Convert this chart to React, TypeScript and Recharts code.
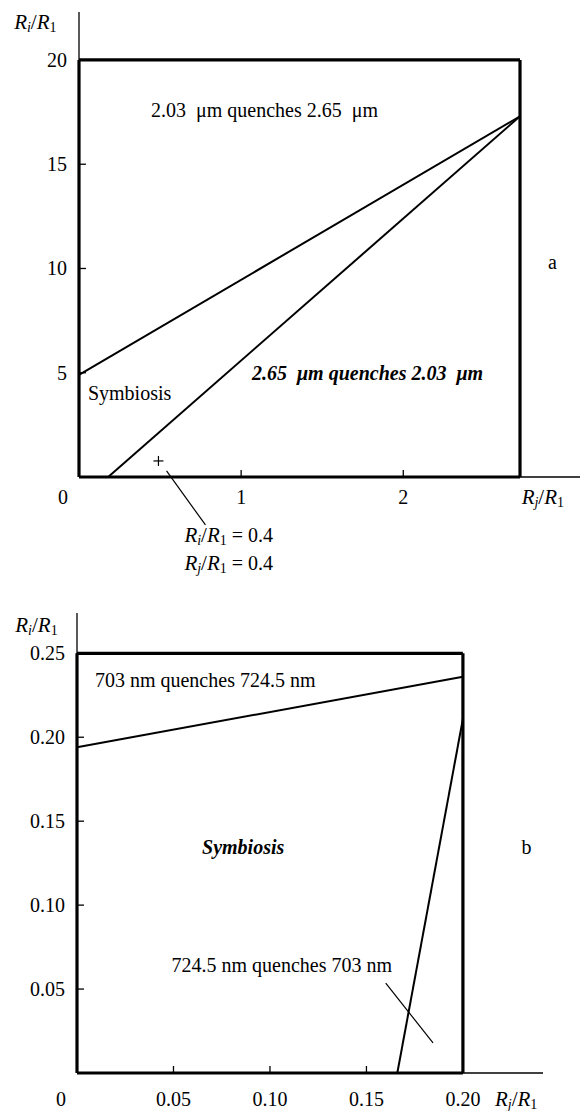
import React from 'react';
import {
  ComposedChart,
  Line,
  Scatter,
  XAxis,
  YAxis,
  ReferenceLine,
  ReferenceDot,
} from 'recharts';

const FONT = 'Liberation Serif, DejaVu Serif, serif';
const FS = 20;

// panel a
const A_X_TICKS = [0, 1, 2];
const A_Y_TICKS = [5, 10, 15, 20];
const A_X_END = 2.72;
const A_Y_END = 20;
const A_UPPER = [
  { x: 0, y: 4.9 },
  { x: 2.72, y: 17.3 },
];
const A_LOWER = [
  { x: 0.18, y: 0 },
  { x: 2.72, y: 17.3 },
];
const A_POINT = [{ x: 0.49, y: 0.77 }];
const A_LEADER = [
  { x: 0.54, y: 0.29 },
  { x: 0.78, y: -2.3 },
];

// panel b
const B_X_TICKS = [0, 0.05, 0.1, 0.15, 0.2];
const B_Y_TICKS = [0.05, 0.1, 0.15, 0.2, 0.25];
const B_X_END = 0.2;
const B_Y_END = 0.25;
const B_UPPER = [
  { x: 0, y: 0.194 },
  { x: 0.2, y: 0.236 },
];
const B_STEEP = [
  { x: 0.166, y: 0 },
  { x: 0.2, y: 0.211 },
];
const B_LEADER = [
  { x: 0.16, y: 0.0536 },
  { x: 0.1845, y: 0.0179 },
];

const ratio = (sub: string, tail = '') => (
  <>
    <tspan fontStyle="italic" fontSize={21}>R</tspan>
    <tspan fontStyle="italic" fontSize={14} dy={5}>{sub}</tspan>
    <tspan fontSize={21} dy={-5}>/</tspan>
    <tspan fontStyle="italic" fontSize={21}>R</tspan>
    <tspan fontSize={14} dy={5}>1</tspan>
    <tspan dy={-5}>{tail}</tspan>
  </>
);

type Note = {
  x: number;
  y: number;
  body: React.ReactNode;
  anchor?: 'start' | 'middle' | 'end';
  bold?: boolean;
};

const A_NOTES: Note[] = [
  { x: 0.444, y: 17.6, body: '2.03  μm quenches 2.65  μm' },
  { x: 0.055, y: 4.03, body: 'Symbiosis' },
  { x: 1.067, y: 4.99, body: '2.65  μm quenches 2.03  μm', bold: true },
  { x: 2.92, y: 10.3, body: 'a', anchor: 'middle' },
  { x: 0.65, y: -2.78, body: ratio('i', ' = 0.4') },
  { x: 0.65, y: -4.12, body: ratio('j', ' = 0.4') },
  { x: 2.73, y: -0.96, body: ratio('j') },
  { x: -0.4, y: 21.8, body: ratio('i') },
];

const B_NOTES: Note[] = [
  { x: 0.0093, y: 0.234, body: '703 nm quenches 724.5 nm' },
  { x: 0.0648, y: 0.1345, body: 'Symbiosis', bold: true },
  { x: 0.049, y: 0.0643, body: '724.5 nm quenches 703 nm' },
  { x: 0.233, y: 0.1345, body: 'b', anchor: 'middle' },
  { x: 0.2166, y: -0.0155, body: ratio('j') },
  { x: -0.032, y: 0.2667, body: ratio('i') },
];

const txt = { fontFamily: FONT, fontSize: FS };

const noteLabel = (n: Note) => (props: any) => {
  const vb = props.viewBox || {};
  return (
    <text
      x={vb.x}
      y={vb.y}
      textAnchor={n.anchor ?? 'start'}
      dominantBaseline="central"
      fill="#000"
      style={{
        ...txt,
        whiteSpace: 'pre',
        fontWeight: n.bold ? 'bold' : 'normal',
        fontStyle: n.bold ? 'italic' : 'normal',
      }}
    >
      {n.body}
    </text>
  );
};

const makeYTick = (fmt: (v: number) => string) => (props: any) => {
  const { x, y, payload } = props;
  return (
    <g>
      <line x1={x} y1={y} x2={x + 7} y2={y} stroke="#000" strokeWidth={1.3} />
      <text x={x - 12} y={y} textAnchor="end" dominantBaseline="central" fill="#000" style={txt}>
        {fmt(payload.value)}
      </text>
    </g>
  );
};

const makeXTick = (fmt: (v: number) => string, dy: number) => (props: any) => {
  const { x, y, payload } = props;
  const zero = payload.value === 0;
  return (
    <g>
      {!zero && <line x1={x} y1={y} x2={x} y2={y - 7} stroke="#000" strokeWidth={1.3} />}
      <text
        x={zero ? x - 16 : x}
        y={y + dy}
        textAnchor="middle"
        dominantBaseline="central"
        fill="#000"
        style={txt}
      >
        {fmt(payload.value)}
      </text>
    </g>
  );
};

const plus = (props: any) => {
  const { cx, cy } = props;
  return (
    <g>
      <line x1={cx - 5} y1={cy} x2={cx + 5} y2={cy} stroke="#000" strokeWidth={1.2} />
      <line x1={cx} y1={cy - 5} x2={cx} y2={cy + 5} stroke="#000" strokeWidth={1.2} />
    </g>
  );
};

const boxLines = (xEnd: number, yEnd: number) => [
  <ReferenceLine key="bl" segment={[{ x: 0, y: 0 }, { x: 0, y: yEnd }]} stroke="#000" strokeWidth={3.2} ifOverflow="visible" />,
  <ReferenceLine key="bb" segment={[{ x: 0, y: 0 }, { x: xEnd, y: 0 }]} stroke="#000" strokeWidth={3.2} ifOverflow="visible" />,
  <ReferenceLine key="bt" segment={[{ x: 0, y: yEnd }, { x: xEnd, y: yEnd }]} stroke="#000" strokeWidth={3.2} ifOverflow="visible" />,
  <ReferenceLine key="br" segment={[{ x: xEnd, y: 0 }, { x: xEnd, y: yEnd }]} stroke="#000" strokeWidth={3.2} ifOverflow="visible" />,
];

const notes = (list: Note[]) =>
  list.map((n, i) => (
    <ReferenceDot
      key={`n${i}`}
      x={n.x}
      y={n.y}
      r={0}
      fill="none"
      stroke="none"
      ifOverflow="visible"
      label={{ content: noteLabel(n) }}
    />
  ));

export default function App() {
  const axisLine = { stroke: '#000', strokeWidth: 1.3 };
  return (
    <div style={{ position: 'absolute', left: 0, top: 0, width: 586, height: 1111, background: '#fff' }}>
      <ComposedChart width={586} height={585} margin={{ top: 12, right: 6, bottom: 78, left: 19 }}>
        <XAxis
          type="number"
          dataKey="x"
          domain={[0, 3.09]}
          ticks={A_X_TICKS}
          tickSize={0}
          tickMargin={0}
          axisLine={axisLine}
          tickLine={false}
          tick={makeXTick((v) => String(v), 20)}
          height={30}
        />
        <YAxis
          type="number"
          dataKey="y"
          domain={[0, 22.3]}
          ticks={A_Y_TICKS}
          tickSize={0}
          tickMargin={0}
          axisLine={axisLine}
          tickLine={false}
          tick={makeYTick((v) => String(v))}
          width={60}
        />
        {boxLines(A_X_END, A_Y_END)}
        <Line data={A_UPPER} dataKey="y" stroke="#000" strokeWidth={2} dot={false} isAnimationActive={false} />
        <Line data={A_LOWER} dataKey="y" stroke="#000" strokeWidth={2} dot={false} isAnimationActive={false} />
        <Scatter data={A_POINT} dataKey="y" shape={plus} isAnimationActive={false} />
        <ReferenceLine segment={A_LEADER} stroke="#000" strokeWidth={1.2} ifOverflow="visible" />
        {notes(A_NOTES)}
      </ComposedChart>
      <ComposedChart width={586} height={526} margin={{ top: 28, right: 43, bottom: 8, left: 17 }}>
        <XAxis
          type="number"
          dataKey="x"
          domain={[0, 0.2415]}
          ticks={B_X_TICKS}
          tickSize={0}
          tickMargin={0}
          axisLine={axisLine}
          tickLine={false}
          tick={makeXTick((v) => (v === 0 ? '0' : v.toFixed(2)), 26)}
          height={30}
        />
        <YAxis
          type="number"
          dataKey="y"
          domain={[0, 0.274]}
          ticks={B_Y_TICKS}
          tickSize={0}
          tickMargin={0}
          axisLine={axisLine}
          tickLine={false}
          tick={makeYTick((v) => v.toFixed(2))}
          width={60}
        />
        {boxLines(B_X_END, B_Y_END)}
        <Line data={B_UPPER} dataKey="y" stroke="#000" strokeWidth={2} dot={false} isAnimationActive={false} />
        <Line data={B_STEEP} dataKey="y" stroke="#000" strokeWidth={2} dot={false} isAnimationActive={false} />
        <ReferenceLine segment={B_LEADER} stroke="#000" strokeWidth={1.2} ifOverflow="visible" />
        {notes(B_NOTES)}
      </ComposedChart>
    </div>
  );
}
